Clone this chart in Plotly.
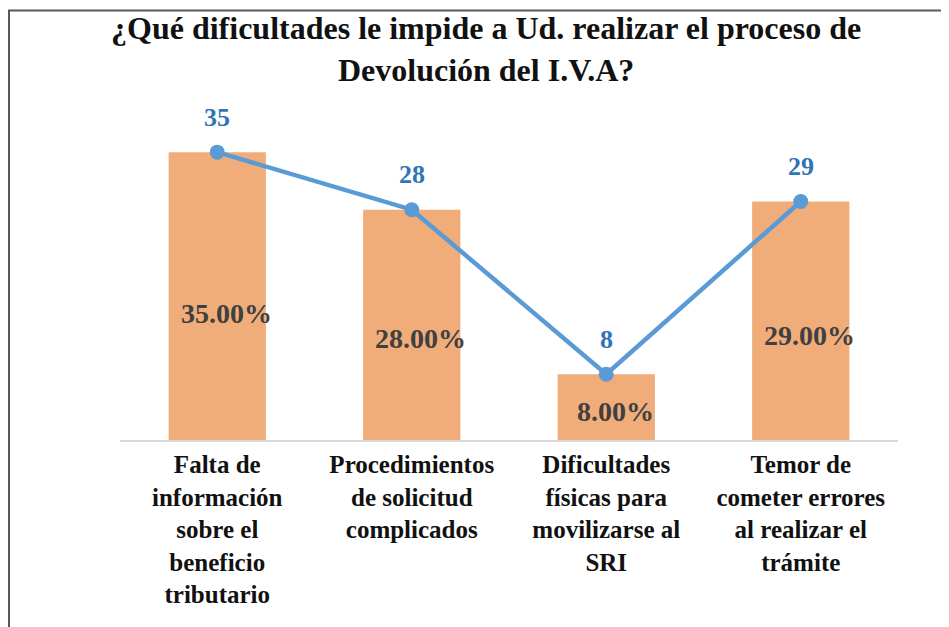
import plotly.graph_objects as go

categories = [
    "Falta de<br>información<br>sobre el<br>beneficio<br>tributario",
    "Procedimientos<br>de solicitud<br>complicados",
    "Dificultades<br>físicas para<br>movilizarse al<br>SRI",
    "Temor de<br>cometer errores<br>al realizar el<br>trámite",
]
counts = [35, 28, 8, 29]
percent_labels = ["35.00%", "28.00%", "8.00%", "29.00%"]
title_text = "¿Qué dificultades le impide a Ud. realizar el proceso de<br>Devolución del I.V.A?"

W, H = 949, 627
OFF = 8  # page body margin offset in the screenshot
L, R, T, B = 120 - OFF, 51 + OFF, 111 - OFF, 187 + OFF
SERIF = "Liberation Serif"

fig = go.Figure()
fig.add_trace(go.Bar(
    x=categories, y=counts,
    marker=dict(color="#F0AD7A", line=dict(width=0)),
    hoverinfo="skip",
))
fig.add_trace(go.Scatter(
    x=categories, y=counts, mode="lines+markers",
    line=dict(color="#5B9BD5", width=4.5),
    marker=dict(color="#5B9BD5", size=15),
    hoverinfo="skip",
))

pw, ph = W - L - R, H - T - B
def px_x(x):
    return (x - OFF - L) / pw
def px_y(y):
    return (H - B - (y - OFF)) / ph

annotations = [dict(
    x=px_x(486), y=px_y(49), xref="paper", yref="paper",
    text=f"<b>{title_text}</b>", showarrow=False,
    font=dict(family=SERIF, size=32, color="#111111"),
    xanchor="center", yanchor="middle", align="center",
)]
for c, v, p in zip(categories, counts, percent_labels):
    annotations.append(dict(
        x=c, y=v, yshift=35, text=f"<b>{v}</b>", showarrow=False,
        font=dict(family=SERIF, size=26, color="#2F75B5"),
        xanchor="center", yanchor="middle",
    ))
    annotations.append(dict(
        x=c, y=v * 0.44, xshift=9, text=f"<b>{p}</b>", showarrow=False,
        font=dict(family=SERIF, size=28, color="#404040"),
        xanchor="center", yanchor="middle",
    ))

shapes = [
    dict(type="line", xref="paper", yref="paper",
         x0=px_x(9), x1=px_x(9), y0=px_y(10), y1=px_y(H + 10),
         line=dict(color="#595959", width=2)),
    dict(type="line", xref="paper", yref="paper",
         x0=px_x(8), x1=px_x(W + 10), y0=px_y(10.5), y1=px_y(10.5),
         line=dict(color="#595959", width=2)),
]

fig.update_layout(
    width=W, height=H,
    margin=dict(l=L, r=R, t=T, b=B),
    paper_bgcolor="white", plot_bgcolor="white",
    showlegend=False,
    bargap=0.5,
    xaxis=dict(
        showline=True, linecolor="#D9D9D9", linewidth=2,
        ticks="", showgrid=False,
        tickfont=dict(family=SERIF, size=25, color="#111111"),
        tickvals=categories,
        ticktext=[f"<b>{c.replace('<br>', '</b><br><b>')}</b>" for c in categories],
        ticklabelstandoff=1,
    ),
    yaxis=dict(range=[0, 40], visible=False, showgrid=False),
    annotations=annotations,
    shapes=shapes,
)

fig.write_html("out.html")
